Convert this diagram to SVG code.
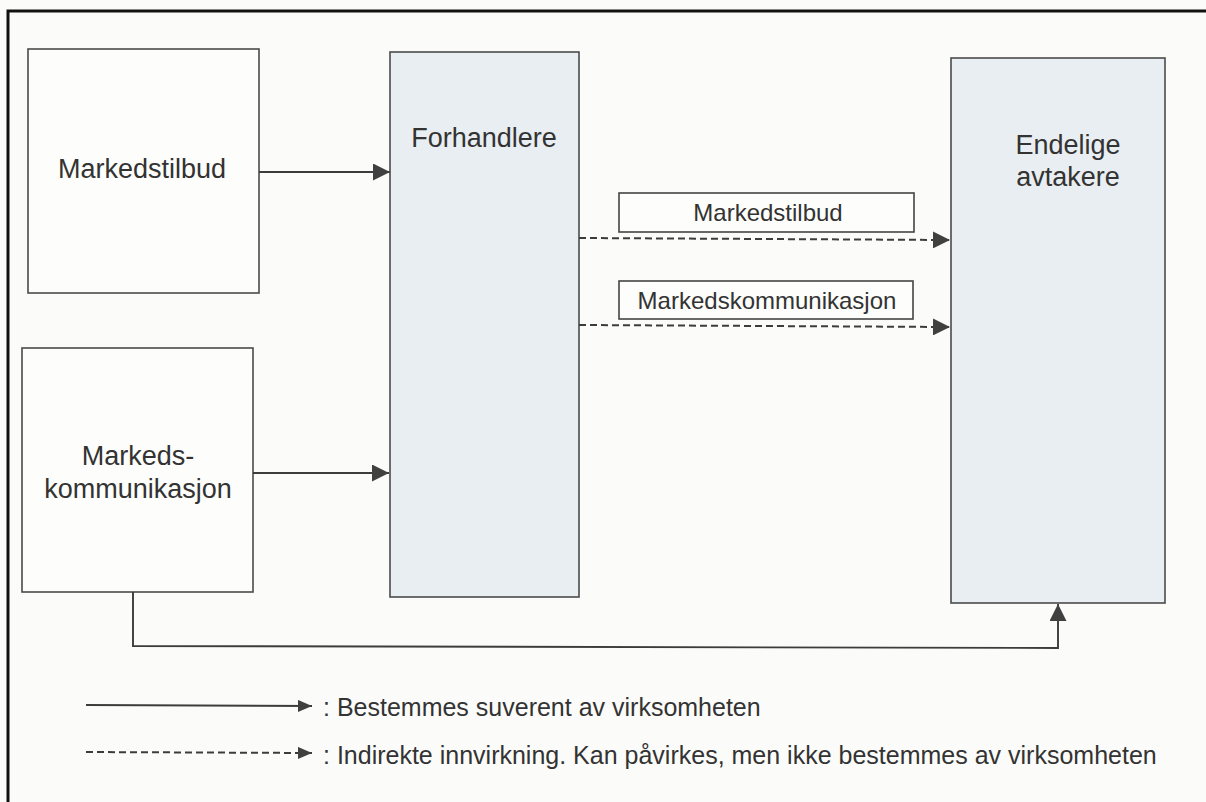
<svg xmlns="http://www.w3.org/2000/svg" width="1206" height="802" viewBox="0 0 1206 802">
  <style>
    .box { stroke: #4a4a4a; stroke-width: 1.6; }
    .plain { fill: #fdfdfb; }
    .tinted { fill: #e9eef2; }
    .label { fill: #fdfdfb; stroke: #444; stroke-width: 1.6; }
    .txt { font-family: "Liberation Sans", Arial, sans-serif; fill: #333; }
    .big { font-size: 27px; }
    .mid { font-size: 24px; }
    .leg { font-size: 25px; }
    .solid { fill: none; stroke: #3c3c3c; stroke-width: 1.9; }
    .dash { fill: none; stroke: #3c3c3c; stroke-width: 2; stroke-dasharray: 7 4; }
  </style>
  <defs>
    <marker id="head" viewBox="0 0 17 17" refX="17" refY="8.5" markerWidth="17" markerHeight="17" markerUnits="userSpaceOnUse" orient="auto">
      <path d="M0,0 L17,8.5 L0,17 Z" fill="#404040"/>
    </marker>
    <marker id="headSmall" viewBox="0 0 14 12" refX="14" refY="6" markerWidth="14" markerHeight="12" markerUnits="userSpaceOnUse" orient="auto">
      <path d="M0,0 L14,6 L0,12 Z" fill="#404040"/>
    </marker>
  </defs>

  <!-- page background and frame -->
  <rect x="0" y="0" width="1206" height="802" fill="#fbfcfa"/>
  <path d="M8,802 L8,11 L1206,11" fill="none" stroke="#111" stroke-width="3"/>

  <!-- nodes -->
  <g id="markedstilbud">
    <rect class="box plain" x="28" y="49" width="231" height="244"/>
    <text class="txt big" x="142" y="178" text-anchor="middle">Markedstilbud</text>
  </g>

  <g id="markedskommunikasjon">
    <rect class="box plain" x="22" y="348" width="231" height="244"/>
    <text class="txt big" x="138" y="465" text-anchor="middle">Markeds-</text>
    <text class="txt big" x="138" y="498" text-anchor="middle">kommunikasjon</text>
  </g>

  <g id="forhandlere">
    <rect class="box tinted" x="390" y="52" width="189" height="545"/>
    <text class="txt big" x="484" y="147" text-anchor="middle">Forhandlere</text>
  </g>

  <g id="endelige-avtakere">
    <rect class="box tinted" x="951" y="58" width="214" height="545"/>
    <text class="txt big" x="1068" y="154" text-anchor="middle">Endelige</text>
    <text class="txt big" x="1068" y="186" text-anchor="middle">avtakere</text>
  </g>

  <g id="label-markedstilbud">
    <rect class="label" x="619" y="193" width="295" height="39"/>
    <text class="txt mid" x="768" y="221" text-anchor="middle">Markedstilbud</text>
  </g>

  <g id="label-markedskommunikasjon">
    <rect class="label" x="619" y="281" width="294" height="38"/>
    <text class="txt mid" x="767" y="309" text-anchor="middle">Markedskommunikasjon</text>
  </g>

  <!-- connectors -->
  <g id="connectors">
    <line class="solid" x1="259" y1="172" x2="390" y2="172" marker-end="url(#head)"/>
    <line class="solid" x1="253" y1="473" x2="389" y2="473" marker-end="url(#head)"/>
    <line class="dash" x1="579" y1="238" x2="950" y2="240" marker-end="url(#head)"/>
    <line class="dash" x1="579" y1="325" x2="950" y2="327" marker-end="url(#head)"/>
    <polyline class="solid" points="133,592 133,646 1058,648 1058,604" marker-end="url(#head)"/>
  </g>

  <!-- legend -->
  <g id="legend">
    <line class="solid" x1="86" y1="705" x2="312" y2="706" marker-end="url(#headSmall)"/>
    <text class="txt leg" x="323" y="716">: Bestemmes suverent av virksomheten</text>
    <line class="dash" x1="86" y1="752" x2="312" y2="753" marker-end="url(#headSmall)"/>
    <text class="txt leg" x="323" y="764">: Indirekte innvirkning. Kan påvirkes, men ikke bestemmes av virksomheten</text>
  </g>
</svg>
